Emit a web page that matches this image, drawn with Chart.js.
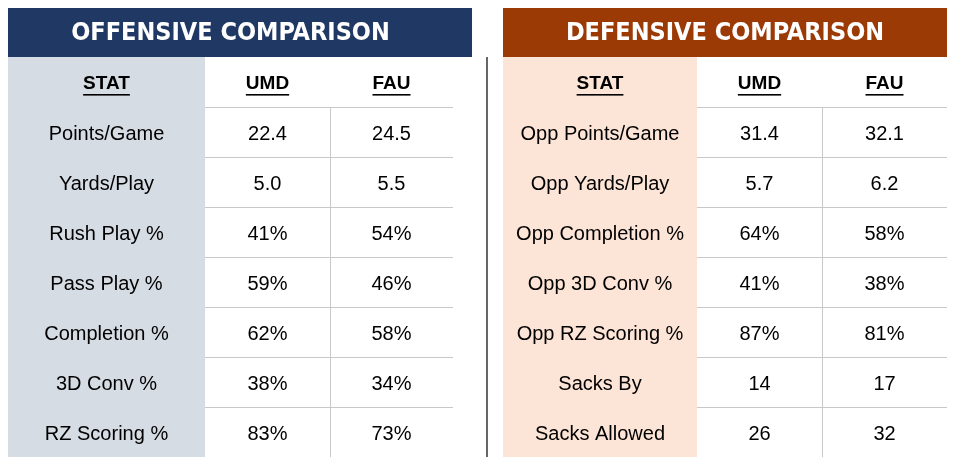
<!DOCTYPE html>
<meta charset="utf-8">
<style>
  html, body { margin: 0; padding: 0; background: #fff; }
  #wrap { width: 956px; height: 465px; }
</style>
<body>
<div id="wrap"><canvas id="tbl"></canvas></div>
<script src="https://cdn.jsdelivr.net/npm/chart.js@4"></script>
<script>
  // table content
  var offTitle = "OFFENSIVE COMPARISON";
  var defTitle = "DEFENSIVE COMPARISON";
  var headers = ["STAT", "UMD", "FAU"];
  var offStats = ["Points/Game", "Yards/Play", "Rush Play %", "Pass Play %", "Completion %", "3D Conv %", "RZ Scoring %"];
  var offUMD = ["22.4", "5.0", "41%", "59%", "62%", "38%", "83%"];
  var offFAU = ["24.5", "5.5", "54%", "46%", "58%", "34%", "73%"];
  var defStats = ["Opp Points/Game", "Opp Yards/Play", "Opp Completion %", "Opp 3D Conv %", "Opp RZ Scoring %", "Sacks By", "Sacks Allowed"];
  var defUMD = ["31.4", "5.7", "64%", "41%", "87%", "14", "26"];
  var defFAU = ["32.1", "6.2", "58%", "38%", "81%", "17", "32"];

  // layout (scale units)
  var rowEdges = [8, 57, 107, 157, 207, 257, 307, 357, 407, 457];
  var offCols = [8, 205, 330, 453, 472];
  var defCols = [503, 697, 822, 947, 947];
  var divider = 487;

  function drawTable(ctx, x, y, cols, title, titleBg, statBg, stats, a, b) {
    var X = function (v) { return x.getPixelForValue(v); };
    var Y = function (v) { return y.getPixelForValue(v); };
    // title band
    ctx.fillStyle = titleBg;
    ctx.fillRect(X(cols[0]), Y(rowEdges[0]), X(cols[4]) - X(cols[0]), Y(rowEdges[1]) - Y(rowEdges[0]));
    ctx.fillStyle = "#fff";
    ctx.font = "900 25px 'DejaVu Sans Condensed', 'DejaVu Sans'";
    ctx.textAlign = "center";
    ctx.textBaseline = "middle";
    ctx.fillText(title, X((cols[0] + cols[3]) / 2), Y((rowEdges[0] + rowEdges[1]) / 2) + 1);
    // stat column bg
    ctx.fillStyle = statBg;
    ctx.fillRect(X(cols[0]), Y(rowEdges[1]), X(cols[1]) - X(cols[0]), Y(rowEdges[9]) - Y(rowEdges[1]));
    // grid lines
    ctx.strokeStyle = "#c8c8c8";
    ctx.lineWidth = 1;
    for (var r = 2; r < 9; r++) {
      ctx.beginPath();
      ctx.moveTo(X(cols[1]), Math.round(Y(rowEdges[r])) + 0.5);
      ctx.lineTo(X(cols[3]), Math.round(Y(rowEdges[r])) + 0.5);
      ctx.stroke();
    }
    ctx.beginPath();
    ctx.moveTo(Math.round(X(cols[2])) + 0.5, Y(rowEdges[2]));
    ctx.lineTo(Math.round(X(cols[2])) + 0.5, Y(rowEdges[9]));
    ctx.stroke();
    // header
    ctx.fillStyle = "#000";
    ctx.font = "bold 19px 'Liberation Sans'";
    for (var c = 0; c < 3; c++) {
      var cx = X((cols[c] + cols[c + 1]) / 2);
      var cy = Y((rowEdges[1] + rowEdges[2]) / 2) + 2;
      ctx.fillText(headers[c], cx, cy);
      var w = ctx.measureText(headers[c]).width;
      ctx.fillRect(cx - w / 2, cy + 10, w, 1.6);
    }
    // body
    ctx.font = "20px 'Liberation Sans'";
    for (var i = 0; i < stats.length; i++) {
      var yy = Y((rowEdges[i + 2] + rowEdges[i + 3]) / 2) + 2;
      ctx.fillText(stats[i], X((cols[0] + cols[1]) / 2), yy);
      ctx.fillText(a[i], X((cols[1] + cols[2]) / 2), yy);
      ctx.fillText(b[i], X((cols[2] + cols[3]) / 2), yy);
    }
  }

  var tablePlugin = {
    id: "tablePlugin",
    afterDraw: function (chart) {
      var ctx = chart.ctx, x = chart.scales.x, y = chart.scales.y;
      ctx.save();
      drawTable(ctx, x, y, offCols, offTitle, "#203864", "#d6dce4", offStats, offUMD, offFAU);
      drawTable(ctx, x, y, defCols, defTitle, "#9c3a06", "#fce4d6", defStats, defUMD, defFAU);
      ctx.strokeStyle = "#000";
      ctx.lineWidth = 1.2;
      ctx.beginPath();
      ctx.moveTo(x.getPixelForValue(divider), y.getPixelForValue(rowEdges[1]));
      ctx.lineTo(x.getPixelForValue(divider), y.getPixelForValue(rowEdges[9]));
      ctx.stroke();
      ctx.restore();
    }
  };

  new Chart(document.getElementById("tbl"), {
    type: "scatter",
    data: { datasets: [{ data: [] }] },
    options: {
      responsive: true,
      maintainAspectRatio: false,
      animation: false,
      layout: { padding: 0 },
      plugins: { legend: { display: false }, tooltip: { enabled: false } },
      scales: {
        x: { type: "linear", min: 0, max: 956, display: false },
        y: { type: "linear", min: 0, max: 465, reverse: true, display: false }
      }
    },
    plugins: [tablePlugin]
  });
</script>
</body>
